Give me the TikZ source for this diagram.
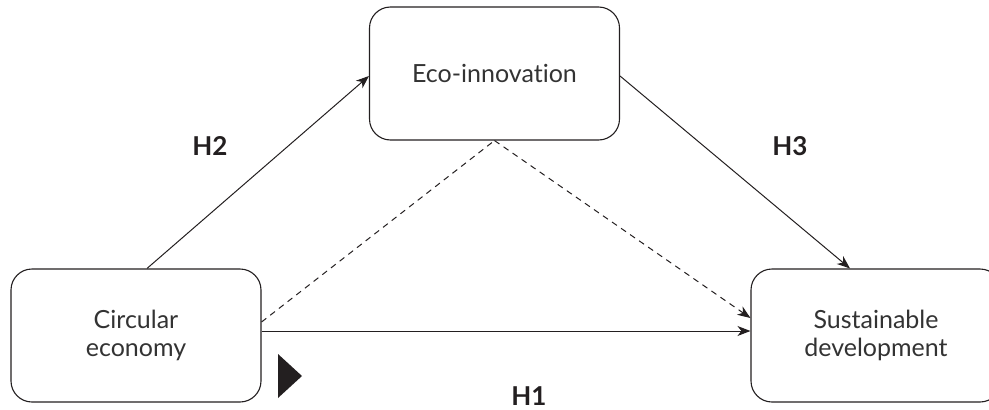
\documentclass[tikz,border=0pt]{standalone}
\usepackage{fontspec}
\setmainfont{Lato}[Ligatures={NoCommon}]
\usetikzlibrary{arrows.meta}
\definecolor{ink}{HTML}{231F20}
\definecolor{txt}{HTML}{333333}
\tikzset{
  box/.style={draw=ink, line width=1.1pt, rounded corners=21pt, minimum width=250pt,
    minimum height=133pt, inner sep=0pt, align=center, text=txt,
    font=\fontsize{25}{28}\selectfont},
  conn/.style={draw=ink, line width=1pt, -{Stealth[length=13pt,width=10pt,inset=4pt]}},
  dashconn/.style={conn, dash pattern=on 6pt off 5pt},
  hlabel/.style={text=ink, font=\fontsize{26}{30}\selectfont\bfseries, inner sep=0pt}
}
\begin{document}
\begin{tikzpicture}[x=1pt,y=-1pt]
\useasboundingbox (0,0) rectangle (989,410);
\clip (0,0) rectangle (989,410);
\node[box] (ce) at (136,335.5) {Circular\\economy};
\node[box] (eco) at (494.5,73.5) {Eco-innovat\kern0pt ion};
\node[box] (sd) at (876,335.5) {Sustainable\\development};
\draw[conn] ([xshift=11pt]ce.north) -- ([yshift=-2.5pt]eco.west);
\draw[conn] ([yshift=-2.5pt]eco.east) -- ([xshift=-26pt]sd.north);
\draw[dashconn, -] ([yshift=13.5pt]ce.east) -- (eco.south);
\draw[dashconn] (eco.south) -- ([yshift=17.5pt]sd.west);
\draw[conn] ([yshift=4.5pt]ce.east) -- ([yshift=4.5pt]sd.west);
\fill[ink] (278,354) -- (278,398) -- (302,376) -- cycle;
\node[hlabel] (h2) at (210,146) {H2};
\node[hlabel] (h3) at (790,146) {H3};
\node[hlabel] (h1) at (529,396) {H1};
\end{tikzpicture}
\end{document}
